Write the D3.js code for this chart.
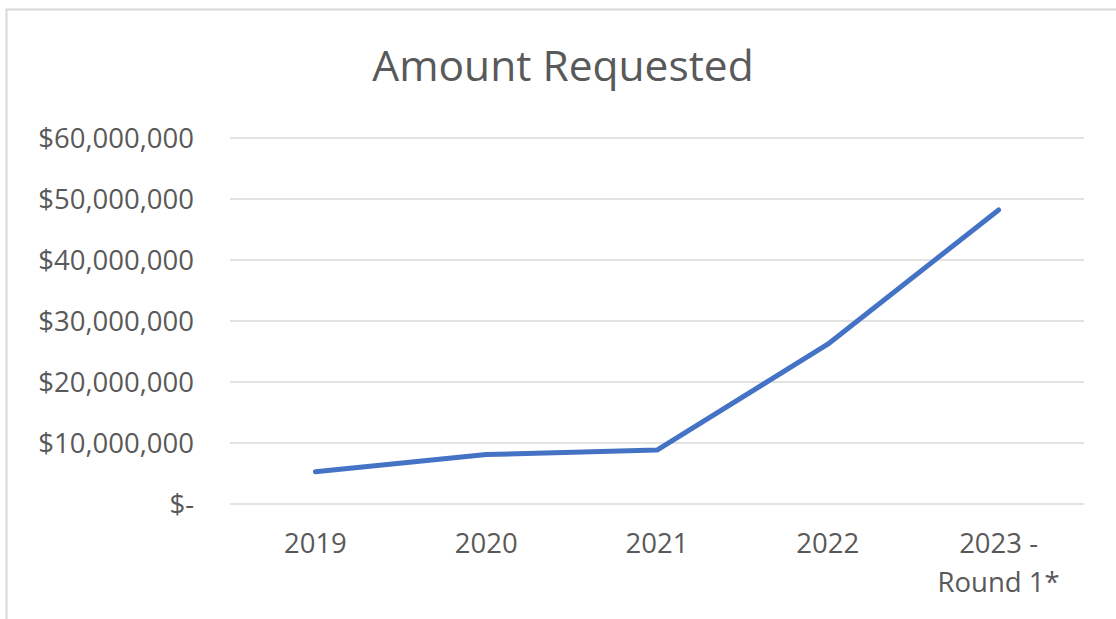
<!DOCTYPE html>
<html>
<head>
<meta charset="utf-8">
<script src="https://cdn.jsdelivr.net/npm/d3@7"></script>
<style>
  body { margin: 0; background: #fff; }
  svg text { font-family: "Open Sans", sans-serif; fill: #595959; }
</style>
</head>
<body>
<script>
const categories = [["2019"], ["2020"], ["2021"], ["2022"], ["2023 -", "Round 1*"]];
const amounts = [5300000, 8100000, 8850000, 26200000, 48200000];
const yTicks = [0, 10000000, 20000000, 30000000, 40000000, 50000000, 60000000];
const title = "Amount Requested";

const W = 1116, H = 619;
const svg = d3.select("body").append("svg").attr("width", W).attr("height", H);

// chart border (only top and left visible)
svg.append("rect")
  .attr("x", 6.5).attr("y", 9.5)
  .attr("width", W + 20).attr("height", H + 20)
  .attr("fill", "none")
  .attr("stroke", "#d9d9d9")
  .attr("stroke-width", 2);

const x = d3.scaleBand()
  .domain(categories.map((d, i) => i))
  .range([230, 1084]);

const y = d3.scaleLinear()
  .domain([0, 60000000])
  .range([504, 138]);

const fmt = v => v === 0 ? "$-" : "$" + d3.format(",")(v);

// gridlines
svg.append("g")
  .selectAll("line")
  .data(yTicks)
  .join("line")
  .attr("x1", 230).attr("x2", 1084)
  .attr("y1", d => y(d)).attr("y2", d => y(d))
  .attr("stroke", "#d9d9d9")
  .attr("stroke-width", 1.5);

// y labels
const yAxis = svg.append("g")
  .attr("transform", "translate(194,0)")
  .call(d3.axisLeft(y).tickValues(yTicks).tickFormat(fmt).tickSize(0).tickPadding(0));
yAxis.select(".domain").remove();
yAxis.selectAll("text")
  .attr("font-size", 27.5)
  .attr("dy", "0.35em")
  .attr("fill", "#595959");

// x labels
const xLab = svg.append("g")
  .selectAll("text")
  .data(categories)
  .join("text")
  .attr("x", (d, i) => x(i) + x.bandwidth() / 2)
  .attr("y", 553)
  .attr("text-anchor", "middle")
  .attr("font-size", 27.5);
xLab.selectAll("tspan")
  .data(d => d)
  .join("tspan")
  .attr("x", function () { return d3.select(this.parentNode).attr("x"); })
  .attr("dy", (d, j) => j === 0 ? 0 : 39)
  .text(d => d);

// line
const line = d3.line()
  .x((d, i) => x(i) + x.bandwidth() / 2)
  .y(d => y(d));

svg.append("path")
  .datum(amounts)
  .attr("d", line)
  .attr("fill", "none")
  .attr("stroke", "#4472c4")
  .attr("stroke-width", 5)
  .attr("stroke-linecap", "round")
  .attr("stroke-linejoin", "round");

// title
svg.append("text")
  .attr("x", 563)
  .attr("y", 81)
  .attr("text-anchor", "middle")
  .attr("font-size", 42.5)
  .text(title);
</script>
</body>
</html>
